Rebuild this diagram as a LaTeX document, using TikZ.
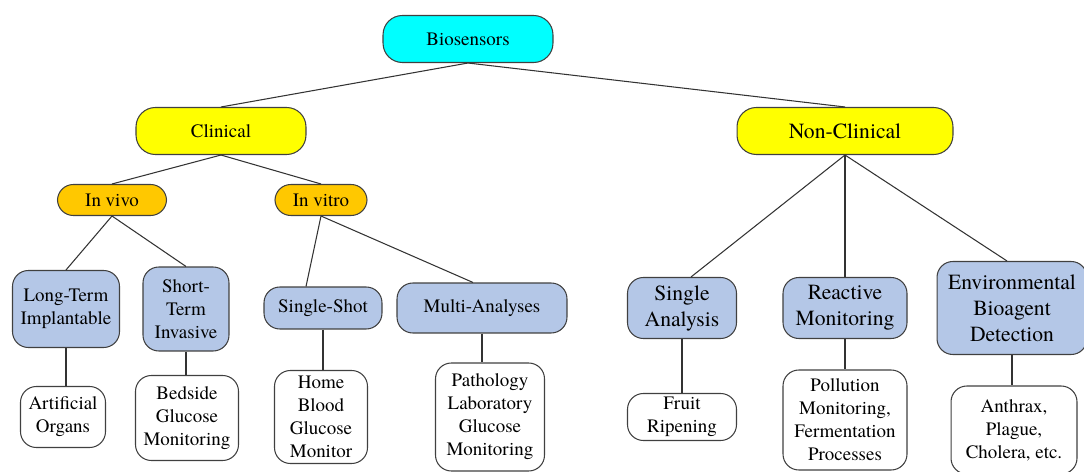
\documentclass[tikz,border=0pt]{standalone}
\usepackage{fontspec}
\IfFontExistsTF{TeX Gyre Termes}{\setmainfont{TeX Gyre Termes}}{\setmainfont{Liberation Serif}}
\begin{document}
\begin{tikzpicture}[x=0.02cm,y=-0.02cm,
    box/.style={draw=black!75, line width=0.6pt, rounded corners=9pt, align=center, inner sep=1pt,
      font=\rmfamily\fontsize{10.8}{13.1}\selectfont},
    root/.style={box, fill={rgb,255:red,0;green,255;blue,255}, rounded corners=11pt},
    branch/.style={box, fill={rgb,255:red,255;green,255;blue,0}, rounded corners=11pt},
    kind/.style={box, fill={rgb,255:red,255;green,200;blue,0}},
    group/.style={box, fill={rgb,255:red,180;green,199;blue,231}},
    use/.style={box, fill=white},
    big/.style={font=\rmfamily\fontsize{12.3}{14.8}\selectfont},
    link/.style={draw=black!80, line width=0.6pt}]
    \useasboundingbox (0,0) rectangle (1084,472);
    % top levels
    \node[root, minimum width=3.4cm, minimum height=0.94cm] (bio) at (468,39) {Biosensors};
    \node[branch, minimum width=3.4cm, minimum height=0.94cm] (clin) at (221,131) {Clinical};
    \node[branch, big, minimum width=4.32cm, minimum height=0.94cm] (nonclin) at (845,131) {Non-Clinical};
    \node[kind, minimum width=2.18cm, minimum height=0.62cm] (vivo) at (112,200) {In vivo};
    \node[kind, minimum width=1.84cm, minimum height=0.62cm] (vitro) at (321,200) {In vitro};
    % groups
    \node[group, minimum width=2.14cm, minimum height=1.54cm] (longterm) at (66,309) {Long-Term\\Implantable};
    \node[group, minimum width=1.72cm, minimum height=1.68cm] (shortterm) at (186,309) {Short-\\Term\\Invasive};
    \node[group, minimum width=2.36cm, minimum height=0.84cm] (single) at (323,308) {Single-Shot};
    \node[group, minimum width=3.4cm, minimum height=1cm] (multi) at (482,308) {Multi-Analyses};
    \node[group, big, minimum width=2.18cm, minimum height=1.22cm] (analysis) at (682,308) {Single\\Analysis};
    \node[group, big, minimum width=2.48cm, minimum height=1.22cm] (reactive) at (845,308) {Reactive\\Monitoring};
    \node[group, big, minimum width=3cm, minimum height=1.86cm] (environ) at (1012,308) {Environmental\\Bioagent\\Detection};
    % uses
    \node[use, minimum width=1.7cm, minimum height=1.22cm] (organs) at (63,417) {Artificial\\Organs};
    \node[use, minimum width=2.06cm, minimum height=1.7cm] (bedside) at (187,418) {Bedside\\Glucose\\Monitoring};
    \node[use, minimum width=1.86cm, minimum height=1.86cm] (home) at (321,417) {Home\\Blood\\Glucose\\Monitor};
    \node[use, minimum width=2.18cm, minimum height=2.16cm] (lab) at (490,417) {Pathology\\Laboratory\\Glucose\\Monitoring};
    \node[use, minimum width=2.18cm, minimum height=0.94cm] (fruit) at (682,417) {Fruit\\Ripening};
    \node[use, minimum width=2.48cm, minimum height=2cm] (pollution) at (845,420) {Pollution\\Monitoring,\\Fermentation\\Processes};
    \node[use, minimum width=2.52cm, minimum height=1.76cm] (anthrax) at (1014,430) {Anthrax,\\Plague,\\Cholera, etc.};
    % links
    \draw[link] (bio.south) -- (clin.north);
    \draw[link] (bio.south) -- (nonclin.north);
    \draw[link] (clin.south) -- (vivo.north);
    \draw[link] (clin.south) -- (vitro.north);
    \draw[link] (vivo.south) -- (longterm.north);
    \draw[link] (vivo.south) -- (shortterm.north);
    \draw[link] (vitro.south) -- ([xshift=-0.34cm]single.north);
    \draw[link] (vitro.south) -- ([xshift=-0.18cm]multi.north);
    \draw[link] (nonclin.south) -- ([xshift=0.18cm]analysis.north);
    \draw[link] (nonclin.south) -- (reactive.north);
    \draw[link] (nonclin.south) -- ([xshift=-0.1cm]environ.north);
    \draw[link] (longterm.south) -- (longterm.south |- organs.north);
    \draw[link] (shortterm.south) -- (shortterm.south |- bedside.north);
    \draw[link] (single.south) -- (single.south |- home.north);
    \draw[link] (multi.south) -- (multi.south |- lab.north);
    \draw[link] (analysis.south) -- (analysis.south |- fruit.north);
    \draw[link] (reactive.south) -- (reactive.south |- pollution.north);
    \draw[link] (environ.south) -- (environ.south |- anthrax.north);
\end{tikzpicture}
\end{document}
